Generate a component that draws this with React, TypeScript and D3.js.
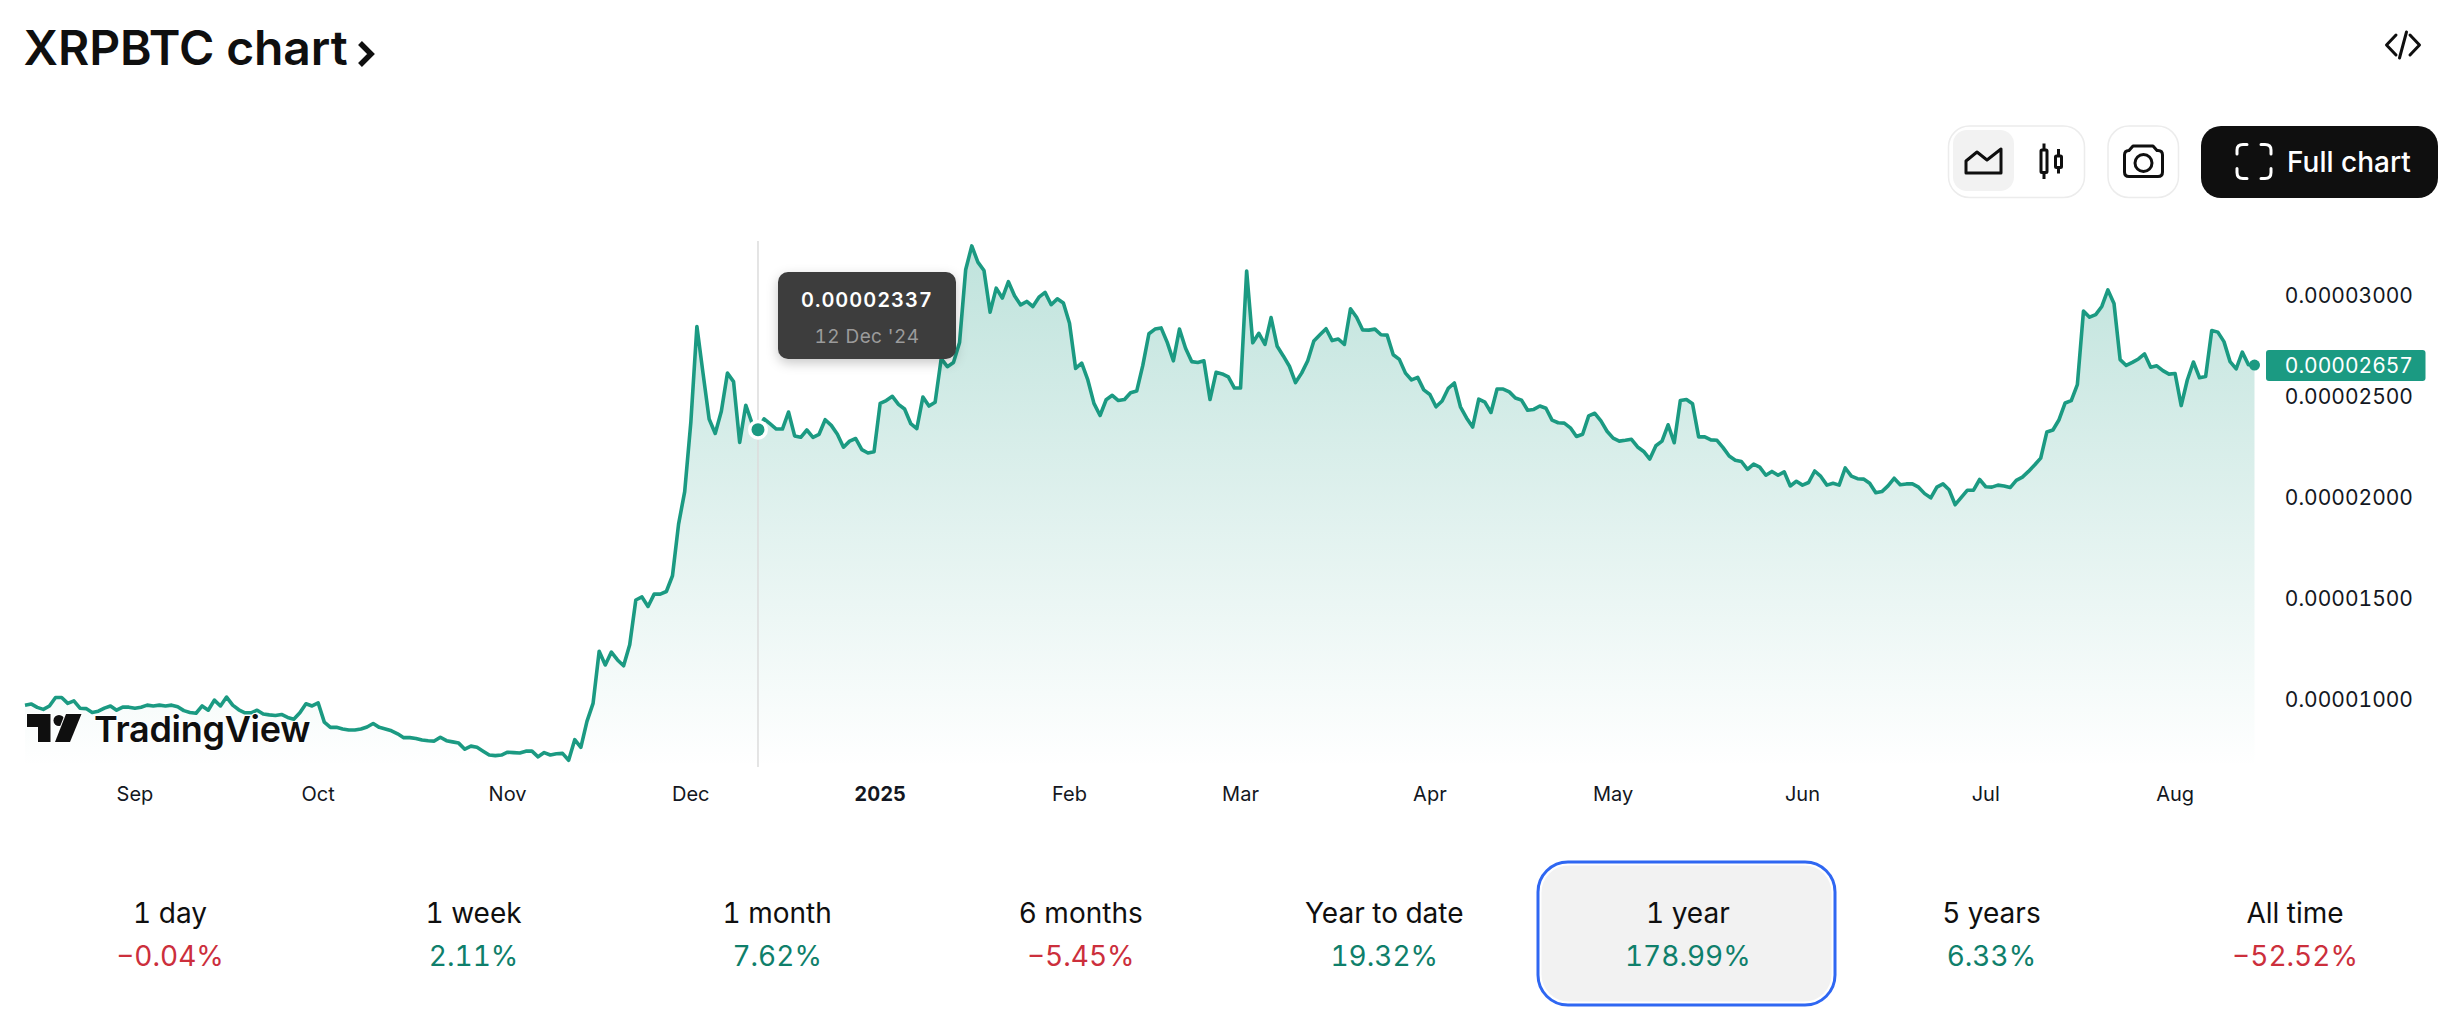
import * as d3 from 'd3';

// daily close in units of 0.00000001 BTC, 14 Aug 2024 to 14 Aug 2025
const prices = [
  972, 978, 961, 951, 968, 1010, 1010, 981, 993, 957, 955, 936, 942, 957, 968, 947, 962, 962, 957, 962,
  972, 968, 972, 968, 972, 964, 945, 936, 932, 968, 947, 997, 968, 1012, 972, 949, 934, 934, 947, 928,
  924, 921, 926, 911, 902, 934, 979, 968, 983, 888, 862, 862, 854, 849, 849, 854, 864, 881, 862, 854,
  845, 830, 811, 811, 807, 799, 796, 794, 813, 796, 790, 784, 754, 769, 763, 744, 725, 722, 725, 739,
  737, 735, 744, 744, 716, 737, 725, 731, 733, 699, 801, 763, 892, 981, 1239, 1171, 1235, 1196, 1167, 1271,
  1493, 1508, 1461, 1522, 1522, 1535, 1613, 1869, 2030, 2371, 2848, 2617, 2390, 2318, 2428, 2617, 2575, 2274, 2458, 2371,
  2337, 2390, 2365, 2340, 2340, 2424, 2306, 2299, 2335, 2299, 2314, 2386, 2358, 2314, 2250, 2280, 2293, 2238, 2221, 2227,
  2467, 2481, 2502, 2462, 2439, 2367, 2342, 2498, 2454, 2473, 2689, 2649, 2670, 2769, 3129, 3247, 3167, 3125, 2919, 3038,
  2989, 3070, 3000, 2955, 2972, 2947, 2993, 3017, 2956, 2985, 2964, 2864, 2640, 2666, 2583, 2467, 2407, 2485, 2507, 2481,
  2486, 2520, 2528, 2655, 2812, 2835, 2841, 2769, 2678, 2835, 2740, 2674, 2670, 2678, 2486, 2621, 2613, 2598, 2543, 2543,
  3123, 2767, 2814, 2759, 2892, 2750, 2702, 2651, 2570, 2617, 2678, 2776, 2807, 2837, 2778, 2786, 2759, 2936, 2894, 2831,
  2830, 2835, 2807, 2805, 2708, 2685, 2617, 2583, 2596, 2534, 2511, 2450, 2479, 2541, 2568, 2450, 2395, 2350, 2488, 2473,
  2422, 2538, 2538, 2524, 2494, 2483, 2433, 2437, 2454, 2443, 2384, 2371, 2369, 2346, 2303, 2314, 2405, 2418, 2380, 2329,
  2295, 2280, 2284, 2289, 2251, 2229, 2191, 2257, 2280, 2361, 2272, 2481, 2486, 2465, 2301, 2301, 2286, 2284, 2248, 2206,
  2185, 2179, 2140, 2166, 2151, 2111, 2130, 2111, 2128, 2058, 2081, 2062, 2075, 2132, 2105, 2062, 2071, 2062, 2147, 2107,
  2094, 2092, 2071, 2024, 2030, 2058, 2096, 2064, 2068, 2068, 2052, 2020, 1999, 2052, 2068, 2039, 1965, 2001, 2037, 2037,
  2090, 2054, 2052, 2062, 2058, 2050, 2086, 2102, 2130, 2162, 2196, 2325, 2335, 2386, 2469, 2481, 2560, 2924, 2894, 2907,
  2947, 3029, 2962, 2684, 2655, 2670, 2687, 2712, 2646, 2653, 2629, 2612, 2615, 2456, 2583, 2672, 2594, 2600, 2828, 2820,
  2773, 2674, 2638, 2721, 2659, 2657,
];

const startDate = new Date(Date.UTC(2024, 7, 14));
const monthDates = ['2024-09-01', '2024-10-01', '2024-11-01', '2024-12-01', '2025-01-01', '2025-02-01', '2025-03-01', '2025-04-01', '2025-05-01', '2025-06-01', '2025-07-01', '2025-08-01'];
const monthLabels = ['Sep', 'Oct', 'Nov', 'Dec', '2025', 'Feb', 'Mar', 'Apr', 'May', 'Jun', 'Jul', 'Aug'];
const yTicks = [3000, 2500, 2000, 1500, 1000];

const hoverIndex = 120;
const hoverLabel = "12 Dec '24";

const periodLabels = ['1 day', '1 week', '1 month', '6 months', 'Year to date', '1 year', '5 years', 'All time'];
const periodChanges = ['−0.04%', '2.11%', '7.62%', '−5.45%', '19.32%', '178.99%', '6.33%', '−52.52%'];

const TEAL = '#1b9a82';
const INK = '#0f0f0f';
const FONT = 'Inter, sans-serif';
const TNUM = { fontVariantNumeric: 'tabular-nums', fontFeatureSettings: '"tnum"' };

const fmt = (v: number) => (v / 1e8).toFixed(8);
const dateAt = (i: number) => d3.utcDay.offset(startDate, i);

export default function App() {
  const x = d3.scaleUtc().domain([startDate, dateAt(prices.length - 1)]).range([25, 2254.5]);
  const y = d3.scaleLinear().domain([1000, 3000]).range([699.5, 295.8]);
  const plotBottom = 767;
  const line = d3.line<number>().x((_, i) => x(dateAt(i))).y((d) => y(d));
  const area = d3.area<number>().x((_, i) => x(dateAt(i))).y0(plotBottom).y1((d) => y(d));
  const periodX = d3.scalePoint<string>().domain(periodLabels).range([170, 2295]);

  const last = prices[prices.length - 1];
  const hx = x(dateAt(hoverIndex));
  const hy = y(prices[hoverIndex]);

  return (
    <svg width={2442} height={1018} viewBox="0 0 2442 1018" style={{ position: 'fixed', left: 0, top: 0, fontFamily: FONT }}>
      <defs>
        <linearGradient id="fill" gradientUnits="userSpaceOnUse" x1={0} x2={0} y1={245} y2={plotBottom}>
          <stop offset="0" stopColor={TEAL} stopOpacity={0.28} />
          <stop offset="1" stopColor={TEAL} stopOpacity={0} />
        </linearGradient>
        <filter id="tipShadow" x="-20%" y="-30%" width="140%" height="170%">
          <feDropShadow dx={0} dy={4} stdDeviation={6} floodColor="#000" floodOpacity={0.22} />
        </filter>
      </defs>
      <rect width={2442} height={1018} fill="#fff" />

      {/* header */}
      <text x={23.5} y={65} fontSize={48} fontWeight={600} letterSpacing={-0.1} fill={INK}>XRPBTC chart</text>
      <path d="M360 43 L371 54 L360 65" fill="none" stroke={INK} strokeWidth={5.5} />
      <g fill="none" stroke={INK} strokeWidth={3} strokeLinecap="round" strokeLinejoin="round">
        <path d="M2396 35 L2386.5 45 L2396 55" />
        <path d="M2410 35 L2419.5 45 L2410 55" />
        <path d="M2406.5 32 L2399.5 58" />
      </g>

      {/* toolbar */}
      <rect x={1948.5} y={126} width={136} height={71.5} rx={21} fill="#fff" stroke="#ececec" strokeWidth={1.5} />
      <rect x={1953} y={130} width={61} height={61} rx={14} fill="#f2f2f2" />
      <path d="M1966 173 V161 L1977 152 L1987 160 L2001 149 V173 Z" fill="none" stroke={INK} strokeWidth={3} strokeLinejoin="round" />
      <g fill="none" stroke={INK} strokeWidth={3}>
        <rect x={2041} y={150} width={6} height={22.5} rx={1} />
        <path d="M2044 143.5 V150 M2044 172.5 V179" />
        <rect x={2055.5} y={156} width={6} height={11.5} rx={1} />
        <path d="M2058.5 149 V156 M2058.5 167.5 V173.5" />
      </g>
      <rect x={2108} y={126} width={70.5} height={71.5} rx={21} fill="#fff" stroke="#ececec" strokeWidth={1.5} />
      <g fill="none" stroke={INK} strokeWidth={3} strokeLinejoin="round">
        <path d="M2129 150.5 L2133 146 H2153 L2157 150.5 H2158 Q2162.5 150.5 2162.5 155 V172 Q2162.5 176.5 2158 176.5 H2129 Q2124.5 176.5 2124.5 172 V155 Q2124.5 150.5 2129 150.5 Z" />
        <circle cx={2143.5} cy={163} r={8.5} />
      </g>
      <rect x={2201} y={126} width={237} height={72} rx={20} fill={INK} />
      <g fill="none" stroke="#fff" strokeWidth={3} strokeLinecap="round">
        <path d="M2237 154 V150 Q2237 144.5 2243 144.5 H2247" />
        <path d="M2261 144.5 H2265 Q2271 144.5 2271 150 V154" />
        <path d="M2237 168.5 V172.5 Q2237 178.5 2243 178.5 H2247" />
        <path d="M2261 178.5 H2265 Q2271 178.5 2271 172.5 V168.5" />
      </g>
      <text x={2287} y={172} fontSize={28} fontWeight={500} fill="#fff">Full chart</text>

      {/* plot */}
      <path d={area(prices) ?? ''} fill="url(#fill)" />
      <path d={line(prices) ?? ''} fill="none" stroke={TEAL} strokeWidth={3.6} strokeLinejoin="round" />
      <line x1={hx} x2={hx} y1={241} y2={plotBottom} stroke="#dcdcdc" strokeWidth={1.5} />
      <circle cx={hx} cy={hy} r={10} fill="#fff" />
      <circle cx={hx} cy={hy} r={6.5} fill={TEAL} />
      <circle cx={x(dateAt(prices.length - 1))} cy={y(last)} r={5.5} fill={TEAL} />

      {/* TradingView mark */}
      <g fill={INK} stroke="#fff" strokeWidth={2} style={{ paintOrder: 'stroke' }}>
        <path d="M27 714 H50.5 V742 H38 V727 H27 Z" />
        <circle cx={59} cy={720.5} r={5.5} />
        <path d="M66 714 H81.5 L70 742 H55 Z" />
        <text x={94} y={741.5} fontSize={36} fontWeight={600} letterSpacing={-0.3} style={{ paintOrder: 'stroke' }}>TradingView</text>
      </g>

      {/* y axis */}
      {yTicks.map((t) => (
        <text key={t} x={2413} y={y(t)} dy="0.36em" textAnchor="end" fontSize={21} style={TNUM} fill="#131722">{fmt(t)}</text>
      ))}
      <rect x={2266} y={350} width={159.5} height={31} rx={3} fill={TEAL} />
      <text x={2413} y={y(last)} dy="0.36em" textAnchor="end" fontSize={21} style={TNUM} fill="#fff">{fmt(last)}</text>

      {/* x axis */}
      {monthLabels.map((m, i) => (
        <text key={m} x={x(new Date(monthDates[i]))} y={800.5} textAnchor="middle" fontSize={20} fontWeight={m === '2025' ? 700 : 400} style={TNUM} fill="#131722">{m}</text>
      ))}

      {/* tooltip */}
      <g>
        <rect x={778} y={272} width={178} height={87} rx={10} fill="#3e3e3e" filter="url(#tipShadow)" />
        <text x={867} y={306.5} textAnchor="middle" fontSize={20} fontWeight={600} letterSpacing={1} style={TNUM} fill="#fff">{fmt(prices[hoverIndex])}</text>
        <text x={867} y={343} textAnchor="middle" fontSize={19} letterSpacing={0.4} style={TNUM} fill="#9b9b9b">{hoverLabel}</text>
      </g>

      {/* period strip */}
      <rect x={1538} y={862} width={297} height={143} rx={30} fill="#fff" stroke="#2f67f2" strokeWidth={3} />
      <rect x={1541.5} y={865.5} width={290} height={136} rx={27} fill="#f2f2f2" />
      {periodLabels.map((p, i) => (
        <g key={p} textAnchor="middle" fontSize={28} style={TNUM}>
          <text x={periodX(p)} y={923} fill={INK}>{p}</text>
          <text x={periodX(p)} y={966} fill={periodChanges[i].startsWith('−') ? '#cc2f3c' : '#0f7f6b'}>{periodChanges[i]}</text>
        </g>
      ))}
    </svg>
  );
}
